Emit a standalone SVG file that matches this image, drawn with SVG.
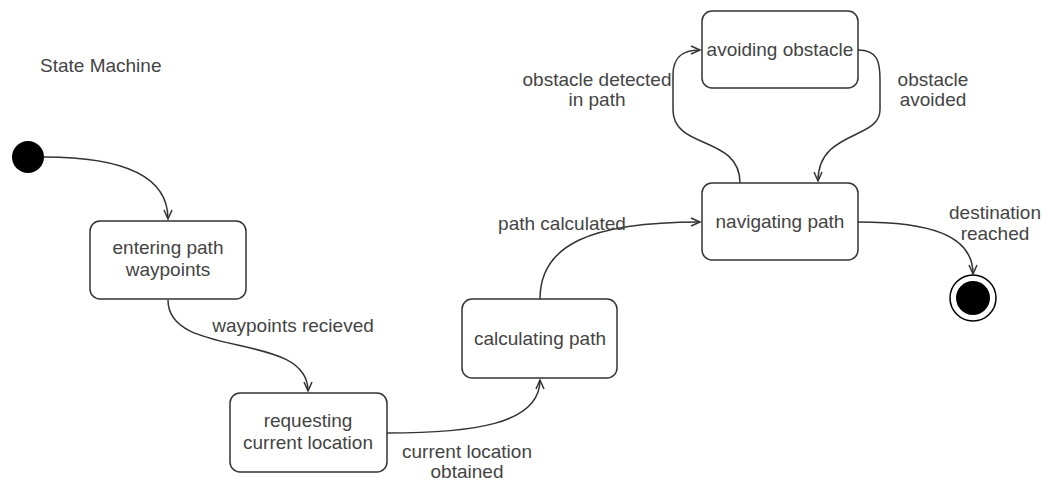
<svg xmlns="http://www.w3.org/2000/svg" width="1048" height="486" viewBox="0 0 1048 486">
<style>
.box{fill:#fff;stroke:#333;stroke-width:1.5}
.t{font-family:"Liberation Sans",Arial,sans-serif;font-size:19px;fill:#444;text-anchor:middle}
.c{fill:none;stroke:#333;stroke-width:1.5;marker-end:url(#arr)}
</style>
<defs>
<marker id="arr" markerWidth="12" markerHeight="12" refX="10" refY="5" orient="auto" markerUnits="userSpaceOnUse">
<path d="M1,1 L10,5 L1,9" fill="none" stroke="#333" stroke-width="1.5"/>
</marker>
</defs>
<rect width="1048" height="486" fill="#fff"/>
<text class="t" x="40" y="72" style="text-anchor:start">State Machine</text>
<g id="connectors">
<path class="c" d="M44,157 C120,157 168,175 168,219"/>
<path class="c" d="M168,300 C168,360 308,330 308,391"/>
<path class="c" d="M387,433 C470,433 540,425 540,380"/>
<path class="c" d="M540,299 C540,245 590,222 700,222"/>
<path class="c" d="M740,183 C740,135 673,150 673,110 L673,75 C673,55 685,50 700,50"/>
<path class="c" d="M858,50 C878,50 880,62 880,80 L880,110 C880,140 818,130 818,181"/>
<path class="c" d="M858,222 C930,222 973,235 973,274"/>
<text class="t" x="293" y="332">waypoints recieved</text>
<text class="t" x="467" y="458">current location</text>
<text class="t" x="467" y="478">obtained</text>
<text class="t" x="562" y="230">path calculated</text>
<text class="t" x="597" y="86">obstacle detected</text>
<text class="t" x="597" y="106">in path</text>
<text class="t" x="933" y="86">obstacle</text>
<text class="t" x="933" y="106">avoided</text>
<text class="t" x="995" y="219">destination</text>
<text class="t" x="995" y="240">reached</text>
</g>
<g id="initial"><circle cx="28" cy="157" r="16" fill="#000"/></g>
<g id="entering"><rect class="box" x="90" y="221" width="156" height="78" rx="10"/>
<text class="t" x="168" y="254">entering path</text><text class="t" x="168" y="276">waypoints</text></g>
<g id="requesting"><rect class="box" x="230" y="393" width="157" height="79" rx="10"/>
<text class="t" x="308" y="427">requesting</text><text class="t" x="308" y="449">current location</text></g>
<g id="calculating"><rect class="box" x="462" y="299" width="155" height="79" rx="10"/>
<text class="t" x="540" y="345">calculating path</text></g>
<g id="navigating"><rect class="box" x="702" y="183" width="156" height="77" rx="10"/>
<text class="t" x="780" y="228">navigating path</text></g>
<g id="avoiding"><rect class="box" x="702" y="11" width="156" height="77" rx="10"/>
<text class="t" x="780" y="56">avoiding obstacle</text></g>
<g id="final"><circle cx="973" cy="298" r="23" fill="#fff" stroke="#000" stroke-width="1.5"/><circle cx="973" cy="298" r="17" fill="#000"/></g>
</svg>
